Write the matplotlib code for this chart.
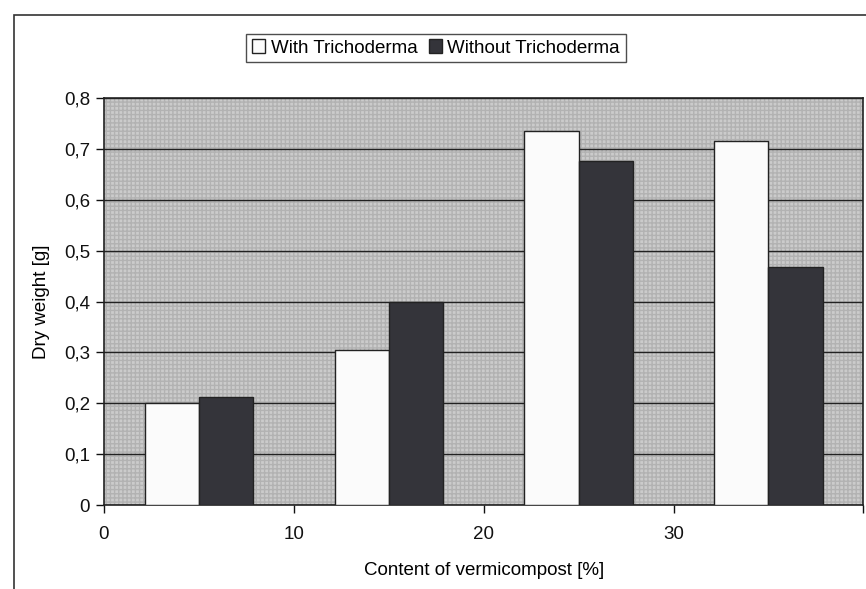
import matplotlib.pyplot as plt
from matplotlib.patches import Rectangle

# content of vermicompost [%] (category starts) and dry weight [g]
vermicompost = [0, 10, 20, 30]
with_tricho = [0.20, 0.305, 0.735, 0.715]
without_tricho = [0.212, 0.40, 0.676, 0.468]
y_ticks = [0, 0.1, 0.2, 0.3, 0.4, 0.5, 0.6, 0.7, 0.8]


def main():
    plt.rcParams['font.family'] = ['Liberation Sans', 'DejaVu Sans']
    fig = plt.figure(figsize=(8.66, 5.89), dpi=100)
    fig.patch.set_facecolor('white')

    # frame of the chart area
    fig.patches.append(Rectangle((14 / 866, -0.05), 1.0, 1 - 15 / 589 + 0.05,
                                 transform=fig.transFigure, fill=False,
                                 edgecolor='#333333', linewidth=1.2))

    ax = fig.add_axes([0.120, 0.1426, 0.877, 0.691])
    ax.set_facecolor('#cbcbcb')
    ax.add_patch(Rectangle((0, 0), 1, 1, transform=ax.transAxes, fill=False,
                           hatch='++++', edgecolor='#b2b2b2', linewidth=0, zorder=0))

    w = 2.85
    centers = [v + 5 for v in vermicompost]
    ax.bar([c - w / 2 for c in centers], with_tricho, width=w, color='#fbfbfb',
           edgecolor='#222222', linewidth=1.0, label='With Trichoderma', zorder=3)
    ax.bar([c + w / 2 for c in centers], without_tricho, width=w, color='#34343a',
           edgecolor='#222222', linewidth=1.0, label='Without Trichoderma', zorder=3)

    ax.set_xlim(0, 40)
    ax.set_ylim(0, 0.8)
    ax.set_yticks(y_ticks)
    ax.set_yticklabels([('%.1f' % t).replace('.', ',') if t else '0' for t in y_ticks])
    ax.set_xticks(vermicompost + [40])
    ax.set_xticklabels([str(v) for v in vermicompost] + [''])
    ax.yaxis.grid(True, color='#222222', linewidth=1.0, zorder=1)
    ax.set_axisbelow(True)
    ax.tick_params(axis='both', direction='out', length=6, width=1, colors='#111111',
                   labelsize=13.5)
    ax.tick_params(axis='x', pad=9)
    ax.tick_params(axis='y', pad=4)
    for s in ax.spines.values():
        s.set_color('#222222')
        s.set_linewidth(1.2)

    ax.set_ylabel('Dry weight [g]', fontsize=13.5, labelpad=10)
    ax.set_xlabel('Content of vermicompost [%]', fontsize=13.5, labelpad=14)

    leg = fig.legend(loc='center', bbox_to_anchor=(436 / 866, 1 - 48 / 589), ncol=2,
                     fontsize=13.5, frameon=True, fancybox=False, edgecolor='#222222',
                     handlelength=0.7, handleheight=0.7, handletextpad=0.3,
                     columnspacing=0.6, borderpad=0.3, borderaxespad=0)
    leg.get_frame().set_linewidth(1.0)

    fig.savefig('out.png', dpi=100)


if __name__ == '__main__':
    main()
